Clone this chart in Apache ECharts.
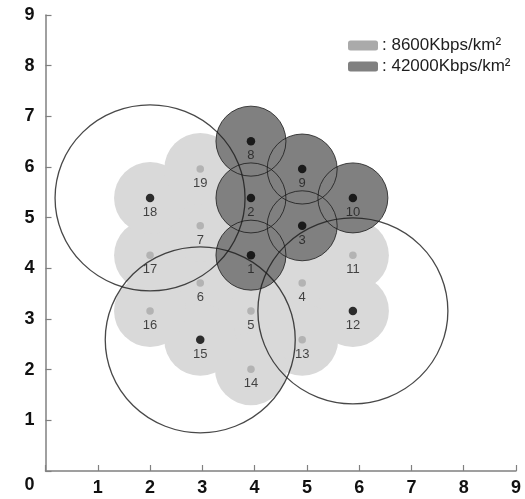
<!DOCTYPE html>
<html>
<head>
<meta charset="utf-8">
<script src="https://cdn.jsdelivr.net/npm/echarts@6/dist/echarts.min.js"></script>
<style>html,body{margin:0;padding:0;background:#fff;}#c{width:525px;height:499px;}</style>
</head>
<body>
<div id="c"></div>
<script>
// Station ids and positions (data units)
const stationIds = [1,2,3,4,5,6,7,8,9,10,11,12,13,14,15,16,17,18,19];
const stationX = [3.93,3.93,4.91,4.91,3.93,2.96,2.96,3.93,4.91,5.88,5.88,5.88,4.91,3.93,2.96,2.0,2.0,2.0,2.96];
const stationY = [4.26,5.39,4.84,3.71,3.16,3.71,4.84,6.51,5.96,5.39,4.26,3.16,2.59,2.01,2.59,3.16,4.26,5.39,5.96];
// Stations in the 42000 Kbps/km2 zone
const highDensityIds = [1,2,3,8,9,10];
// Stations drawn with a black dot
const activeIds = [1,2,3,8,9,10,12,15,18];
// Centres of the large coverage circles
const coverageCenterIds = [18,15,12];
const legendNames = [': 8600Kbps/km\u00b2', ': 42000Kbps/km\u00b2'];
const axisTicks = [0,1,2,3,4,5,6,7,8,9];

const pt = id => [stationX[id-1], stationY[id-1], String(id)];
const lowData = stationIds.filter(id => !highDensityIds.includes(id)).map(pt);
const highData = highDensityIds.map(pt);
const bigData = coverageCenterIds.map(pt);
const dotData = stationIds.map(id => ({
  value: pt(id),
  symbolSize: activeIds.includes(id) ? 8.5 : 7.5,
  itemStyle: { color: activeIds.includes(id) ? '#000000' : '#a9a9a9' }
}));

const axisCommon = {
  type: 'value', min: axisTicks[0], max: axisTicks[axisTicks.length-1], interval: 1,
  axisLine: { show: true, lineStyle: { color: '#808080', width: 1.5 } },
  axisTick: { show: true, inside: true, length: 6, lineStyle: { color: '#808080', width: 1.2 } },
  splitLine: { show: false }
};
const labelFont = { fontFamily: 'Liberation Sans', fontWeight: 'bold', fontSize: 18, color: '#111' };

const chart = echarts.init(document.getElementById('c'), null, { renderer: 'canvas' });
chart.setOption({
  animation: false,
  grid: { left: 45.5, right: 9, top: 15, bottom: 28 },
  legend: {
    orient: 'vertical', left: 343, top: 32, itemWidth: 30, itemHeight: 10, itemGap: 4,
    icon: 'roundRect', selectedMode: false,
    textStyle: { fontFamily: 'Liberation Sans', fontSize: 17, lineHeight: 17, color: '#1e1e1e', padding: [0,0,0,-1] },
    data: [
      { name: legendNames[0], itemStyle: { color: '#aaaaaa' } },
      { name: legendNames[1], itemStyle: { color: '#808080' } }
    ]
  },
  xAxis: Object.assign({}, axisCommon, {
    axisLabel: Object.assign({}, labelFont, { margin: 8, formatter: v => v === 0 ? '' : String(v) })
  }),
  yAxis: Object.assign({}, axisCommon, {
    axisLabel: Object.assign({}, labelFont, {
      margin: 11,
      formatter: v => v === 0 ? '{z|0}' : String(v),
      rich: { z: Object.assign({}, labelFont, { padding: [28,0,0,0] }) }
    })
  }),
  series: [
    { name: legendNames[0], type: 'scatter', data: lowData, symbolSize: 72, silent: true,
      itemStyle: { color: '#d9d9d9', opacity: 1 } },
    { name: legendNames[1], type: 'scatter', data: highData, symbolSize: 70, silent: true,
      itemStyle: { color: '#808080', opacity: 1 } },
    { name: 'highBorder', type: 'scatter', data: highData, symbolSize: 70, silent: true,
      itemStyle: { color: 'rgba(0,0,0,0)', borderColor: '#1a1a1a', borderWidth: 1 } },
    { name: 'coverage', type: 'scatter', data: bigData, symbolSize: [190,186], silent: true,
      itemStyle: { color: 'rgba(0,0,0,0)', borderColor: '#1a1a1a', borderWidth: 1.3 } },
    { name: 'stations', type: 'scatter', data: dotData, silent: true,
      label: { show: true, position: 'bottom', distance: 4, formatter: p => p.value[2],
        fontFamily: 'Liberation Sans', fontSize: 13, color: '#1a1a1a' } }
  ]
});
</script>
</body>
</html>
